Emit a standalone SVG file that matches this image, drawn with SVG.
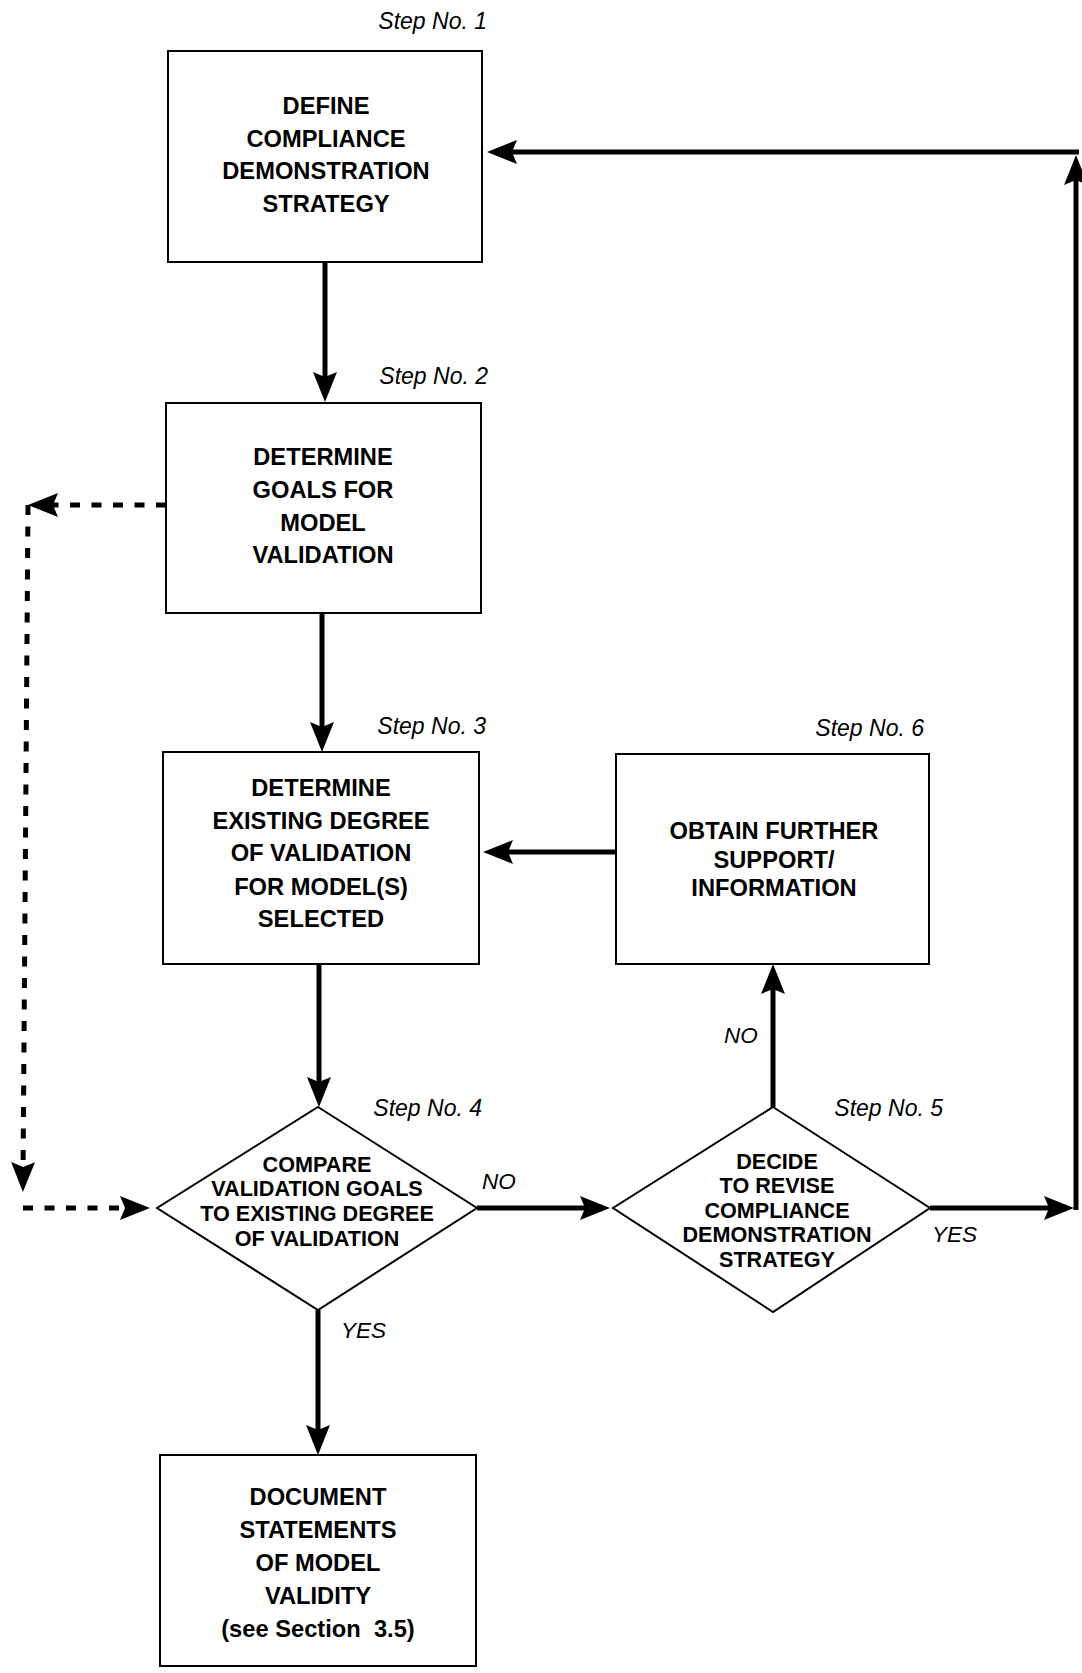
<svg xmlns="http://www.w3.org/2000/svg" width="1082" height="1673" viewBox="0 0 1082 1673">
<style>
.box{fill:#fff;stroke:#000;stroke-width:2}
.t{font-family:"Liberation Sans",Arial,sans-serif;font-weight:bold;font-size:23.7px;text-anchor:middle;fill:#000}
.td{font-family:"Liberation Sans",Arial,sans-serif;font-weight:bold;font-size:21.6px;text-anchor:middle;fill:#000}
.lbl{font-family:"Liberation Sans",Arial,sans-serif;font-style:italic;font-size:22.5px;fill:#000}
.step{font-family:"Liberation Sans",Arial,sans-serif;font-style:italic;font-size:23px;text-anchor:end;fill:#000}
.solid{fill:none;stroke:#000;stroke-width:5;marker-end:url(#ah)}
.dash{fill:none;stroke:#000;stroke-width:5;stroke-dasharray:10 11.5;marker-end:url(#ah)}
</style>
<defs>
<marker id="ah" markerUnits="userSpaceOnUse" markerWidth="32" markerHeight="26" refX="14" refY="12" orient="auto">
<path d="M0,0 L30,12 L0,24 L5,12 Z" fill="#000"/>
</marker>
</defs>
<rect width="1082" height="1673" fill="#fff"/>

<g id="connectors">
<path class="solid" d="M325,262 V386"/>
<path class="solid" d="M322,614 V736"/>
<path class="solid" d="M616,852 H499"/>
<path class="solid" d="M319,964 V1091"/>
<path class="solid" d="M477,1208 H594"/>
<path class="solid" d="M773,1107 V980"/>
<path class="solid" d="M318,1310 V1439"/>
<path class="solid" d="M930,1208 H1058"/>
<path class="solid" d="M1076,1210 V171"/>
<path class="solid" d="M1079,152 H503"/>
<path class="dash" d="M166,505 H44"/>
<path class="dash" d="M28,505 L23,1176"/>
<path class="dash" d="M23,1208 H134"/>
<text class="lbl" x="482" y="1189">NO</text>
<text class="lbl" x="724" y="1043">NO</text>
<text class="lbl" x="932" y="1242">YES</text>
<text class="lbl" x="341" y="1338">YES</text>
</g>

<g id="step1">
<text class="step" x="487" y="29">Step No. 1</text>
<rect class="box" x="168" y="51" width="314" height="211"/>
<text class="t" x="326" y="114">DEFINE</text>
<text class="t" x="326" y="147">COMPLIANCE</text>
<text class="t" x="326" y="179">DEMONSTRATION</text>
<text class="t" x="326" y="212">STRATEGY</text>
</g>

<g id="step2">
<text class="step" x="488" y="384">Step No. 2</text>
<rect class="box" x="166" y="403" width="315" height="210"/>
<text class="t" x="323" y="465">DETERMINE</text>
<text class="t" x="323" y="498">GOALS FOR</text>
<text class="t" x="323" y="531">MODEL</text>
<text class="t" x="323" y="563">VALIDATION</text>
</g>

<g id="step3">
<text class="step" x="486" y="734">Step No. 3</text>
<rect class="box" x="163" y="752" width="316" height="212"/>
<text class="t" x="321" y="796">DETERMINE</text>
<text class="t" x="321" y="829">EXISTING DEGREE</text>
<text class="t" x="321" y="861">OF VALIDATION</text>
<text class="t" x="321" y="895">FOR MODEL(S)</text>
<text class="t" x="321" y="927">SELECTED</text>
</g>

<g id="step6">
<text class="step" x="924" y="736">Step No. 6</text>
<rect class="box" x="616" y="754" width="313" height="210"/>
<text class="t" x="774" y="839">OBTAIN FURTHER</text>
<text class="t" x="774" y="868">SUPPORT/</text>
<text class="t" x="774" y="896">INFORMATION</text>
</g>

<g id="step4">
<text class="step" x="482" y="1116">Step No. 4</text>
<polygon class="box" points="318,1107 477,1208 318,1310 157,1208"/>
<text class="td" x="317" y="1172">COMPARE</text>
<text class="td" x="317" y="1196">VALIDATION GOALS</text>
<text class="td" x="317" y="1221">TO EXISTING DEGREE</text>
<text class="td" x="317" y="1246">OF VALIDATION</text>
</g>

<g id="step5">
<text class="step" x="943" y="1116">Step No. 5</text>
<polygon class="box" points="773,1107 930,1208 773,1312 613,1208"/>
<text class="td" x="777" y="1169">DECIDE</text>
<text class="td" x="777" y="1193">TO REVISE</text>
<text class="td" x="777" y="1218">COMPLIANCE</text>
<text class="td" x="777" y="1242">DEMONSTRATION</text>
<text class="td" x="777" y="1267">STRATEGY</text>
</g>

<g id="document">
<rect class="box" x="160" y="1455" width="316" height="211"/>
<text class="t" x="318" y="1505">DOCUMENT</text>
<text class="t" x="318" y="1538">STATEMENTS</text>
<text class="t" x="318" y="1571">OF MODEL</text>
<text class="t" x="318" y="1604">VALIDITY</text>
<text class="t" x="318" y="1637">(see Section&#160; 3.5)</text>
</g>
</svg>
